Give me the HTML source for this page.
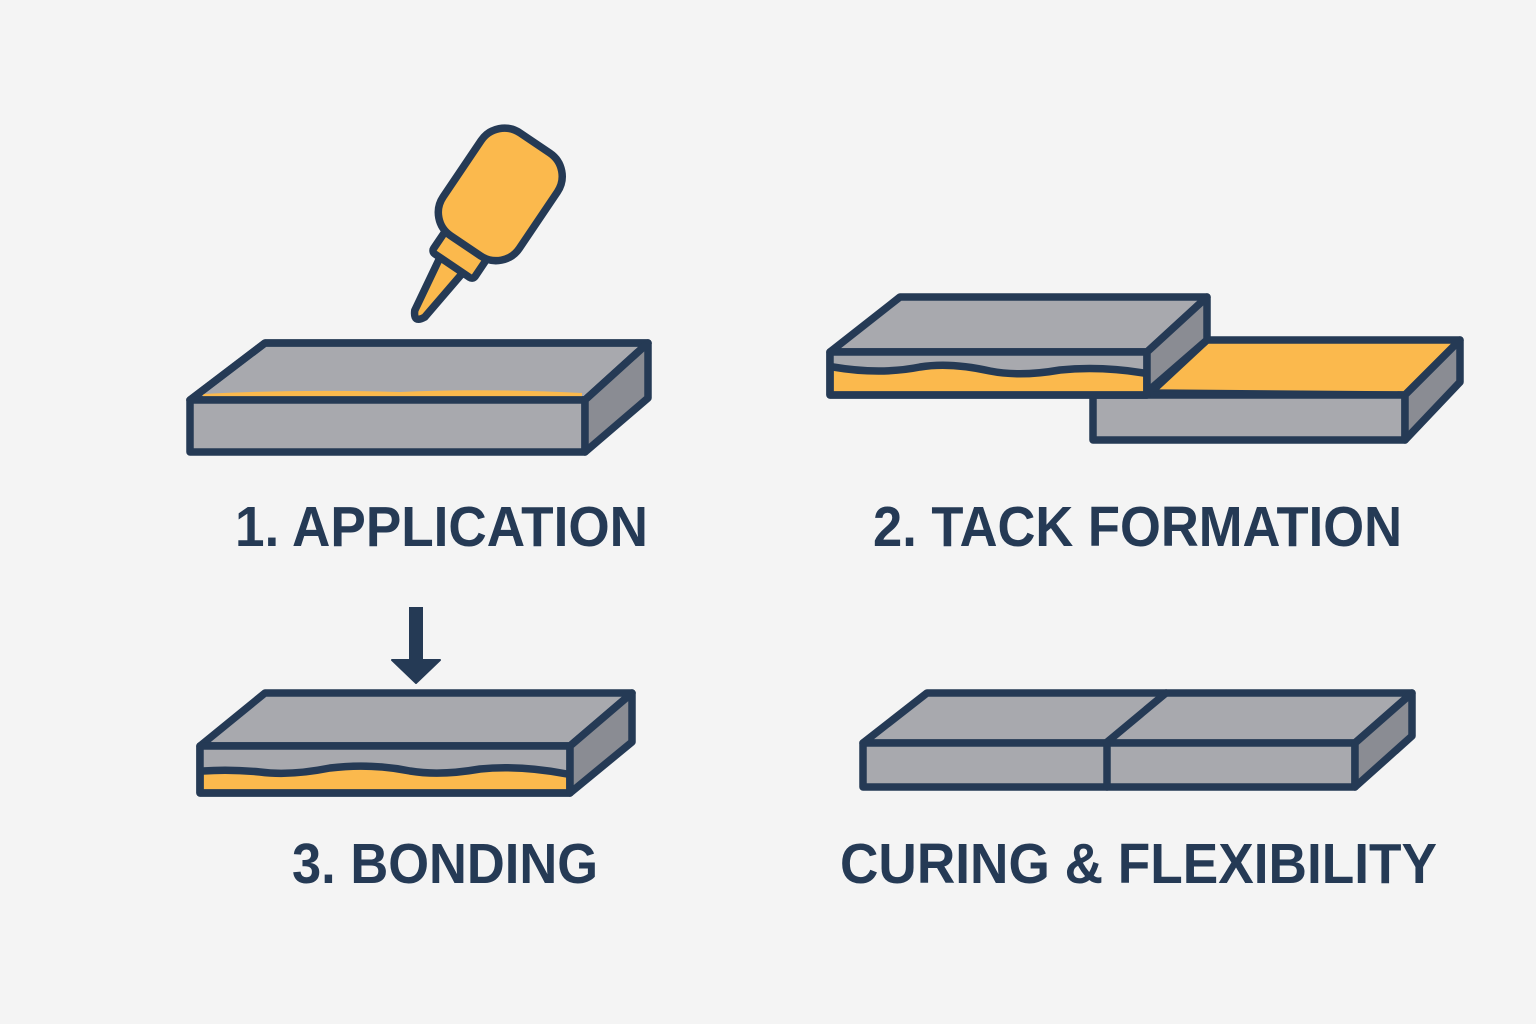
<!DOCTYPE html>
<html><head><meta charset="utf-8"><style>
html,body{margin:0;padding:0;background:#f4f4f4;}
svg{display:block}
text{font-family:"Liberation Sans",sans-serif;font-weight:bold;fill:#253a55;}
</style></head><body>
<svg width="1536" height="1024" viewBox="0 0 1536 1024" xmlns="http://www.w3.org/2000/svg">
<rect width="1536" height="1024" fill="#f4f4f4"/>
<g stroke="#253a55" stroke-width="7.5" stroke-linejoin="round" stroke-linecap="round">
<!-- bottle -->
<g transform="rotate(34 500 193)">
  <path d="M486 278 L514 278 L507 338 Q501 350 495 338 Z" fill="#fbb94d"/>
  <rect x="476" y="254" width="50" height="26" rx="4" fill="#fbb94d"/>
  <rect x="455" y="132" width="92" height="124" rx="28" fill="#fbb94d"/>
</g>
<!-- plate 1 -->
<polygon points="190,400 265,343 648,343 585,400" fill="#a8a9ae"/>
<path d="M203,394 Q300,389 400,392 Q480,388 582,393 L582,400 L203,400 Z" fill="#fbb94d" stroke="none"/>
<polygon points="190,400 265,343 648,343 585,400" fill="none"/>
<rect x="190" y="400" width="395" height="52" fill="#a8a9ae"/>
<polygon points="585,400 648,343 648,398 585,452" fill="#8a8c93"/>
<!-- plate 2 lower right -->
<polygon points="1150,393 1207,340 1460,340 1405,395" fill="#fbb94d"/>
<rect x="1093" y="395" width="312" height="45" fill="#a8a9ae"/>
<polygon points="1405,395 1460,340 1460,382 1405,440" fill="#8a8c93"/>
<!-- plate 2 upper left -->
<polygon points="830,352 900,297 1207,297 1147,352" fill="#a8a9ae"/>
<rect x="830" y="352" width="317" height="43" fill="#fbb94d"/>
<path d="M833,352 L1144,352 L1144,371 Q1100,366 1060,370 Q1020,377 990,371 Q950,364 920,367 Q880,375 833,367 Z" fill="#a8a9ae" stroke="none"/>
<path d="M833,367 Q880,375 920,367 Q950,362 990,371 Q1020,377 1060,370 Q1100,366 1144,373" fill="none"/>
<rect x="830" y="352" width="317" height="43" fill="none"/>
<polygon points="1147,352 1207,297 1207,340 1147,392" fill="#8a8c93"/>
<!-- arrow -->
<line x1="416" y1="607" x2="416" y2="660" stroke-width="14" stroke-linecap="butt"/>
<polygon points="392,660 440,660 416,683" fill="#253a55" stroke-width="2"/>
<!-- plate 3 -->
<polygon points="200,746 265,693 632,693 570,746" fill="#a8a9ae"/>
<rect x="200" y="746" width="370" height="47" fill="#fbb94d"/>
<path d="M203,746 L567,746 L567,772 Q520,766 480,769 Q440,775 410,770 Q370,764 330,768 Q290,775 260,770 Q230,768 203,770 Z" fill="#a8a9ae" stroke="none"/>
<path d="M203,771 Q230,769 260,772 Q290,776 330,768 Q370,763 410,771 Q440,776 480,769 Q520,765 567,774" fill="none"/>
<rect x="200" y="746" width="370" height="47" fill="none"/>
<polygon points="570,746 632,693 632,742 570,793" fill="#8a8c93"/>
<!-- plate 4 -->
<polygon points="863,743 927,693 1412,693 1355,743" fill="#a8a9ae"/>
<line x1="1106" y1="743" x2="1166" y2="693"/>
<rect x="863" y="743" width="492" height="44" fill="#a8a9ae"/>
<line x1="1107" y1="743" x2="1107" y2="787"/>
<polygon points="1355,743 1412,693 1412,736 1355,787" fill="#8a8c93"/>
</g>
<text x="235" y="546" font-size="57" textLength="413" lengthAdjust="spacingAndGlyphs">1. APPLICATION</text>
<text x="873" y="546" font-size="57" textLength="529" lengthAdjust="spacingAndGlyphs">2. TACK FORMATION</text>
<text x="292" y="883" font-size="57" textLength="306" lengthAdjust="spacingAndGlyphs">3. BONDING</text>
<text x="840" y="883" font-size="57" textLength="597" lengthAdjust="spacingAndGlyphs">CURING &amp; FLEXIBILITY</text>
</svg>
</body></html>
